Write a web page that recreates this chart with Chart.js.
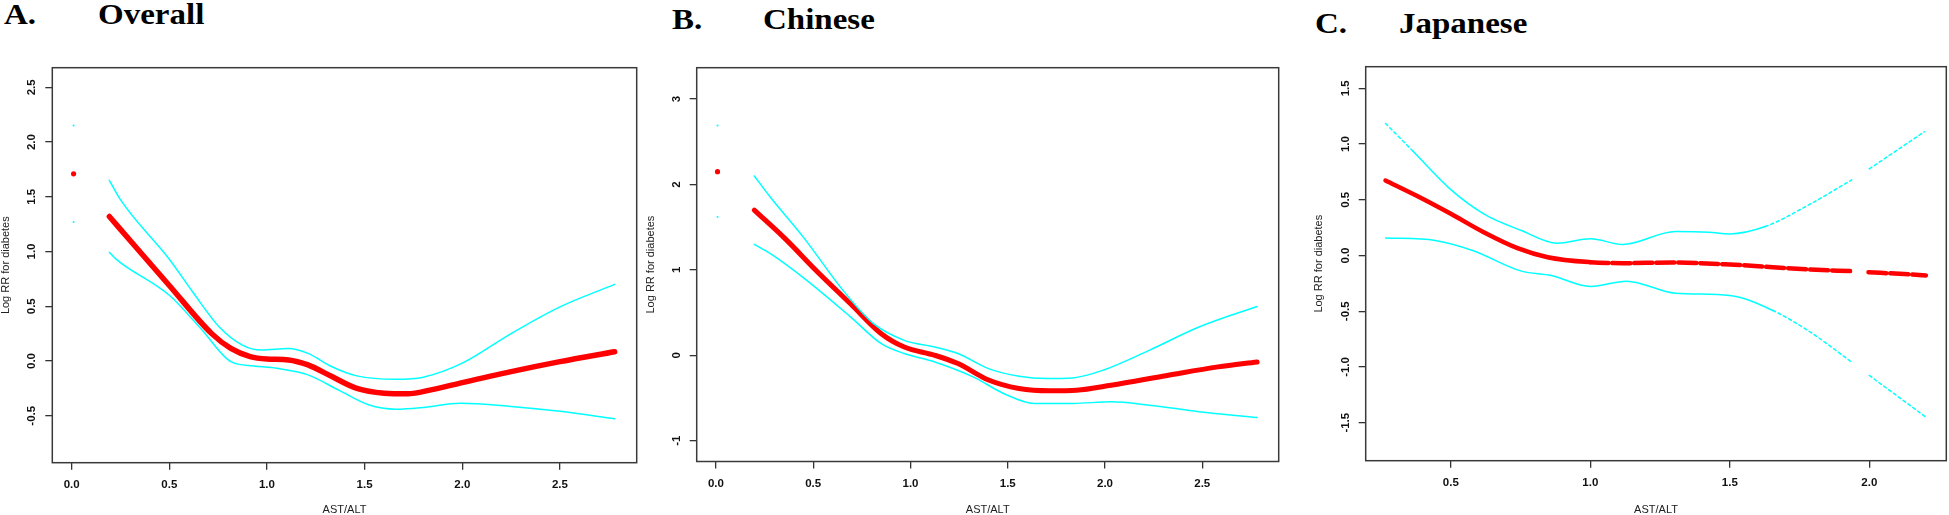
<!DOCTYPE html>
<html>
<head>
<meta charset="utf-8">
<script src="https://cdn.jsdelivr.net/npm/chart.js@4.4.0/dist/chart.umd.min.js"></script>
<style>
html, body { margin: 0; padding: 0; background: #fff; }
body { width: 1949px; height: 515px; position: relative; overflow: hidden; }
canvas { position: absolute; top: 0; }
.ttl { position: absolute; font: bold 30px 'Liberation Serif', 'Times New Roman', serif; line-height: 30px;
       white-space: nowrap; color: #000; transform-origin: 0 0; transform: scaleX(1.1); }
</style>
</head>
<body>
<div class="ttl" style="left:4px;top:-1px">A.</div>
<div class="ttl" style="left:98px;top:-1px">Overall</div>
<div class="ttl" style="left:672px;top:4px">B.</div>
<div class="ttl" style="left:763px;top:4px">Chinese</div>
<div class="ttl" style="left:1315px;top:8px">C.</div>
<div class="ttl" style="left:1399px;top:8px">Japanese</div>

<canvas id="chartOverall" width="645" height="515" style="left:0px"></canvas>
<canvas id="chartChinese" width="668" height="515" style="left:645px"></canvas>
<canvas id="chartJapanese" width="636" height="515" style="left:1313px"></canvas>

<script>
// axis ranges and tick values
const overallRangeX = [-0.099, 2.893];
const overallRangeY = [-0.929, 2.679];
const overallTicksX = [0, 0.5, 1, 1.5, 2, 2.5];
const overallTicksY = [-0.5, 0, 0.5, 1, 1.5, 2, 2.5];

const chineseRangeX = [-0.099, 2.893];
const chineseRangeY = [-1.244, 3.368];
const chineseTicksX = [0, 0.5, 1, 1.5, 2, 2.5];
const chineseTicksY = [-1, 0, 1, 2, 3];

const japaneseRangeX = [0.195, 2.276];
const japaneseRangeY = [-1.841, 1.694];
const japaneseTicksX = [0.5, 1, 1.5, 2];
const japaneseTicksY = [-1.5, -1, -0.5, 0, 0.5, 1, 1.5];

// A. Overall  [AST/ALT, log RR]
const overallEstimate = [[0.193, 1.32], [0.324, 1.05], [0.5, 0.69], [0.717, 0.25], [0.815, 0.115], [0.914, 0.04],
  [1.0, 0.018], [1.11, 0.01], [1.21, -0.036], [1.33, -0.14], [1.46, -0.25], [1.6, -0.294], [1.72, -0.3],
  [1.84, -0.264], [2.0, -0.197], [2.25, -0.097], [2.5, -0.006], [2.78, 0.085]];
const overallUpper = [[0.193, 1.65], [0.255, 1.46], [0.5, 0.93], [0.62, 0.63], [0.756, 0.31], [0.874, 0.145],
  [0.972, 0.1], [1.11, 0.115], [1.21, 0.07], [1.33, -0.05], [1.46, -0.136], [1.66, -0.167], [1.8, -0.148],
  [2.0, -0.02], [2.25, 0.25], [2.5, 0.494], [2.78, 0.7]];
const overallLower = [[0.193, 0.994], [0.226, 0.933], [0.5, 0.6], [0.66, 0.3], [0.815, -0.006], [0.933, -0.045],
  [1.05, -0.067], [1.21, -0.127], [1.365, -0.264], [1.52, -0.4], [1.66, -0.44], [1.8, -0.424], [1.99, -0.385],
  [2.25, -0.415], [2.5, -0.46], [2.78, -0.527]];
const overallFirstEstimate = [[0.01, 1.71]];
const overallFirstCI = [[0.01, 2.15], [0.01, 1.27]];

// B. Chinese
const chineseEstimate = [[0.197, 1.7], [0.358, 1.36], [0.516, 0.99], [0.693, 0.6], [0.85, 0.253], [0.968, 0.097],
  [1.125, 0.0], [1.244, -0.097], [1.401, -0.29], [1.558, -0.389], [1.716, -0.416], [1.853, -0.409],
  [2.031, -0.35], [2.326, -0.233], [2.581, -0.136], [2.782, -0.078]];
const chineseUpper = [[0.197, 2.1], [0.28, 1.85], [0.457, 1.36], [0.653, 0.76], [0.81, 0.37], [0.968, 0.175],
  [1.125, 0.097], [1.244, 0.02], [1.401, -0.156], [1.558, -0.245], [1.696, -0.272], [1.833, -0.265],
  [1.99, -0.175], [2.227, 0.058], [2.483, 0.331], [2.782, 0.572]];
const chineseLower = [[0.197, 1.3], [0.28, 1.19], [0.457, 0.895], [0.693, 0.447], [0.85, 0.136], [0.968, 0.02],
  [1.125, -0.078], [1.322, -0.253], [1.479, -0.447], [1.637, -0.564], [1.833, -0.564], [2.031, -0.545],
  [2.227, -0.584], [2.483, -0.661], [2.782, -0.73]];
const chineseFirstEstimate = [[0.008, 2.15]];
const chineseFirstCI = [[0.008, 2.69], [0.008, 1.62]];

// C. Japanese (null = no data between 1.94 and 2.0)
const japaneseEstimate = [[0.266, 0.673], [0.376, 0.538], [0.5, 0.374], [0.618, 0.209], [0.739, 0.066],
  [0.847, -0.015], [1.0, -0.06], [1.116, -0.069], [1.29, -0.063], [1.5, -0.081], [1.654, -0.105],
  [1.789, -0.126], [1.937, -0.14], [1.967, null], [1.997, -0.15], [2.125, -0.167], [2.203, -0.179]];
const japaneseUpper = [[0.266, 1.185], [0.363, 0.94], [0.497, 0.598], [0.618, 0.374], [0.753, 0.224], [0.88, 0.11],
  [1.0, 0.15], [1.116, 0.099], [1.305, 0.215], [1.425, 0.209], [1.5, 0.194], [1.627, 0.26], [1.789, 0.463],
  [1.937, 0.679], [1.967, null], [2.0, 0.777], [2.197, 1.11]];
const japaneseLower = [[0.266, 0.158], [0.444, 0.135], [0.578, 0.045], [0.753, -0.14], [0.86, -0.18], [1.0, -0.278],
  [1.13, -0.23], [1.305, -0.338], [1.5, -0.359], [1.654, -0.493], [1.789, -0.688], [1.937, -0.957],
  [1.967, null], [2.0, -1.076], [2.203, -1.45]];

const RED = '#ff0000';
const CYAN = '#00ffff';

Chart.defaults.font.family = "'Liberation Sans', Arial, sans-serif";
Chart.defaults.color = '#111';

const toPoints = (arr) => arr.map(p => ({ x: p[0], y: p[1] }));

// R-style closed box around the plot region
const framePlugin = {
  id: 'frame',
  afterDatasetsDraw(chart) {
    const { ctx, chartArea: a } = chart;
    ctx.save();
    ctx.strokeStyle = '#3a3a3a';
    ctx.lineWidth = 1.5;
    ctx.strokeRect(a.left, a.top, a.right - a.left, a.bottom - a.top);
    ctx.restore();
  }
};

function curve(data, color, width, dash) {
  const ds = {
    data: toPoints(data), showLine: true, borderColor: color, backgroundColor: color,
    borderWidth: width, pointRadius: 0, cubicInterpolationMode: 'monotone',
    borderCapStyle: 'round', borderJoinStyle: 'round', spanGaps: false
  };
  // sparse data regions show up broken in the original
  if (dash) ds.segment = { borderDash: (c) => dash(c.p0.parsed.x, c.p1.parsed.x) };
  return ds;
}

function dots(data, color, radius) {
  return { data: toPoints(data), showLine: false, pointRadius: radius, borderWidth: 0,
           backgroundColor: color, pointBorderColor: color };
}

function makePanel(id, opt) {
  const tickGrid = { display: true, drawOnChartArea: false, drawTicks: true, tickLength: 7,
                     color: '#333', lineWidth: 1.3 };
  new Chart(document.getElementById(id), {
    type: 'scatter',
    data: {
      datasets: [
        curve(opt.upper, CYAN, 1.5, opt.ciDash),
        curve(opt.lower, CYAN, 1.5, opt.ciDash),
        curve(opt.estimate, RED, opt.redWidth, opt.redDash),
        dots(opt.firstCI || [], CYAN, 1),
        dots(opt.firstEstimate || [], RED, 2.6)
      ]
    },
    options: {
      responsive: false,
      animation: false,
      devicePixelRatio: 1,
      layout: { padding: { left: 0, top: opt.padTop, right: opt.padRight, bottom: 0 } },
      plugins: { legend: { display: false }, tooltip: { enabled: false } },
      scales: {
        x: {
          type: 'linear', min: opt.rangeX[0], max: opt.rangeX[1],
          afterBuildTicks: (s) => { s.ticks = opt.ticksX.map(v => ({ value: v })); },
          afterFit: (s) => { s.height = opt.axisHeight; },
          ticks: { callback: (v) => v.toFixed(1), font: { size: 11.5, weight: 'bold' }, padding: 8,
                   maxRotation: 0, autoSkip: false, color: '#111' },
          grid: tickGrid,
          border: { display: false },
          title: { display: true, text: 'AST/ALT', font: { size: 11, lineHeight: 1 }, color: '#222',
                   padding: { top: 0, bottom: 0 } }
        },
        y: {
          type: 'linear', min: opt.rangeY[0], max: opt.rangeY[1],
          afterBuildTicks: (s) => { s.ticks = opt.ticksY.map(v => ({ value: v })); },
          afterFit: (s) => { s.width = opt.axisWidth; },
          ticks: { callback: opt.formatY, font: { size: 11.5, weight: 'bold' }, padding: opt.tickPadY,
                   minRotation: 90, maxRotation: 90, crossAlign: 'center', autoSkip: false, color: '#111' },
          grid: tickGrid,
          border: { display: false },
          title: { display: true, text: 'Log RR for diabetes', font: { size: 11, lineHeight: 1 }, color: '#222',
                   padding: { top: 0.7, bottom: 0 } }
        }
      }
    },
    plugins: [framePlugin]
  });
}

makePanel('chartOverall', {
  estimate: overallEstimate, upper: overallUpper, lower: overallLower,
  firstEstimate: overallFirstEstimate, firstCI: overallFirstCI,
  rangeX: overallRangeX, rangeY: overallRangeY, ticksX: overallTicksX, ticksY: overallTicksY,
  formatY: (v) => v.toFixed(1), redWidth: 5.5,
  padTop: 67.7, padRight: 8.3, axisWidth: 52.3, axisHeight: 52.3, tickPadY: 3.1
});

makePanel('chartChinese', {
  estimate: chineseEstimate, upper: chineseUpper, lower: chineseLower,
  firstEstimate: chineseFirstEstimate, firstCI: chineseFirstCI,
  rangeX: chineseRangeX, rangeY: chineseRangeY, ticksX: chineseTicksX, ticksY: chineseTicksY,
  formatY: (v) => String(v), redWidth: 5,
  padTop: 67.7, padRight: 34.3, axisWidth: 51.7, axisHeight: 53.5, tickPadY: 7.3
});

makePanel('chartJapanese', {
  estimate: japaneseEstimate, upper: japaneseUpper, lower: japaneseLower,
  rangeX: japaneseRangeX, rangeY: japaneseRangeY, ticksX: japaneseTicksX, ticksY: japaneseTicksY,
  formatY: (v) => v.toFixed(1), redWidth: 4.5,
  redDash: (x0) => (x0 >= 1.0 ? [18, 4] : undefined),
  ciDash: (x0, x1) => (x0 >= 1.62 || x1 <= 0.4 ? [3, 3] : undefined),
  padTop: 66.7, padRight: 2.7, axisWidth: 52.7, axisHeight: 54.3, tickPadY: 3.1
});
</script>
</body>
</html>
